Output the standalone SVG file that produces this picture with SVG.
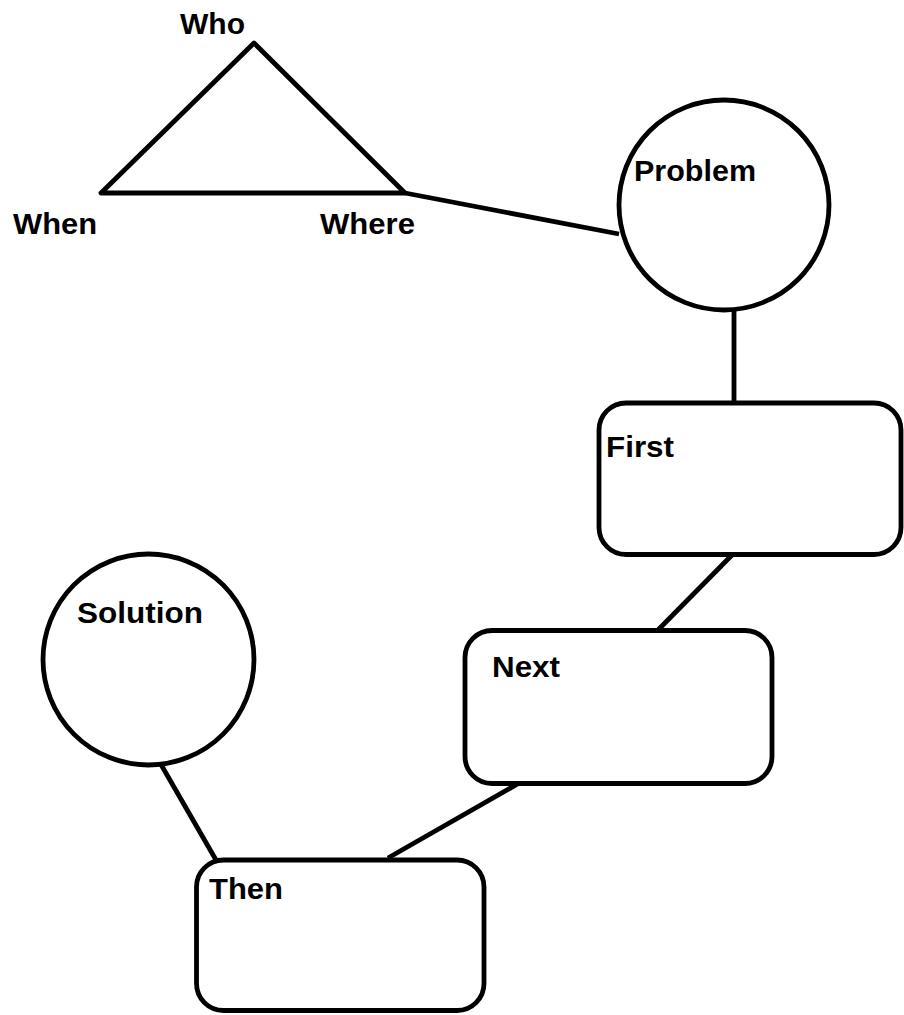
<svg xmlns="http://www.w3.org/2000/svg" width="904" height="1015" viewBox="0 0 904 1015">
<style>
.s{fill:none;stroke:#000;stroke-width:4.8;stroke-linejoin:round}
.n{fill:#fff;stroke:#000;stroke-width:4.8}
.t{font-family:"Liberation Sans",Arial,sans-serif;font-weight:bold;font-size:29px;fill:#000}
</style>
<rect width="904" height="1015" fill="#fff"/>
<g id="connectors">
<line class="s" x1="405" y1="193" x2="619" y2="234"/>
<line class="s" x1="734" y1="308" x2="734" y2="403"/>
<line class="s" x1="732" y1="555" x2="658" y2="630"/>
<line class="s" x1="521" y1="782" x2="388" y2="858"/>
<line class="s" x1="159" y1="761" x2="216" y2="860"/>
</g>
<g id="triangle">
<polygon class="s" points="254,43 101,193 405,193"/>
<text class="t" x="180" y="34" textLength="65" lengthAdjust="spacingAndGlyphs">Who</text>
<text class="t" x="13" y="234" textLength="84" lengthAdjust="spacingAndGlyphs">When</text>
<text class="t" x="320" y="234" textLength="95" lengthAdjust="spacingAndGlyphs">Where</text>
</g>
<g id="problem">
<circle class="n" cx="724" cy="205" r="105"/>
<text class="t" x="634" y="181" textLength="122" lengthAdjust="spacingAndGlyphs">Problem</text>
</g>
<g id="first">
<rect class="n" x="599" y="403" width="302" height="151.5" rx="27"/>
<text class="t" x="606" y="457" textLength="68" lengthAdjust="spacingAndGlyphs">First</text>
</g>
<g id="next">
<rect class="n" x="465" y="630.5" width="307" height="153" rx="27"/>
<text class="t" x="492" y="677" textLength="68" lengthAdjust="spacingAndGlyphs">Next</text>
</g>
<g id="then">
<rect class="n" x="196.5" y="860" width="287.5" height="150.5" rx="27"/>
<text class="t" x="209" y="899" textLength="74" lengthAdjust="spacingAndGlyphs">Then</text>
</g>
<g id="solution">
<circle class="n" cx="148.5" cy="659.5" r="105.5"/>
<text class="t" x="77" y="623" textLength="126" lengthAdjust="spacingAndGlyphs">Solution</text>
</g>
</svg>
